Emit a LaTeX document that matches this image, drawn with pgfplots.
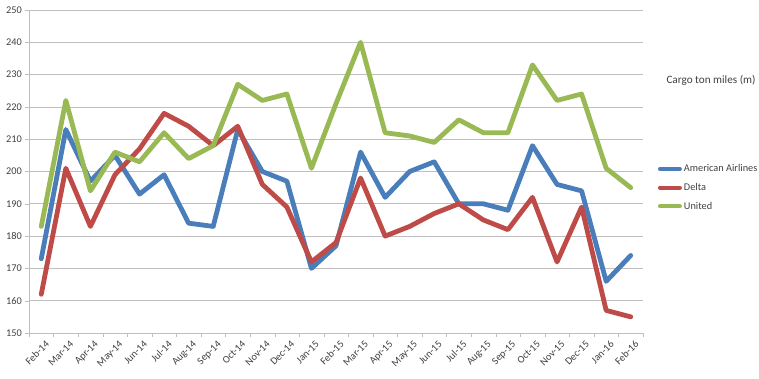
\documentclass[border=0pt]{standalone}
\usepackage{pgfplots}
\pgfplotsset{compat=1.18}
\usepackage{fontspec}
\setmainfont{Carlito}
\definecolor{aa}{HTML}{4A7EBB}
\definecolor{dl}{HTML}{BE4B48}
\definecolor{un}{HTML}{98B954}
\definecolor{txt}{HTML}{404040}
\definecolor{grd}{HTML}{BFBFBF}
\begin{document}
\begin{tikzpicture}[x=1pt,y=1pt]
\useasboundingbox (0,0) rectangle (759,378);
\begin{axis}[
  at={(29pt,45pt)}, anchor=south west,
  scale only axis, width=614pt, height=323pt,
  xmin=-0.5, xmax=24.5, ymin=150, ymax=250,
  ytick distance=10,
  xtick={0,...,24},
  xticklabels={Feb-14,Mar-14,Apr-14,May-14,Jun-14,Jul-14,Aug-14,Sep-14,Oct-14,Nov-14,Dec-14,Jan-15,Feb-15,Mar-15,Apr-15,May-15,Jun-15,Jul-15,Aug-15,Sep-15,Oct-15,Nov-15,Dec-15,Jan-16,Feb-16},
  minor xtick={-0.5,0.5,...,24.5},
  major tick length=4pt,
  minor tick length=4pt,
  tick align=outside,
  major x tick style={draw=none},
  minor x tick style={draw=grd},
  ytick style={draw=grd},
  axis x line*=bottom, axis y line*=left,
  axis line style={draw=grd, line width=0.8pt, -},
  ymajorgrids, major grid style={draw=grd, line width=0.8pt},
  xticklabel style={rotate=45, anchor=north east, font=\fontsize{10.3}{12}\selectfont, text=txt, inner sep=0.5pt, xshift=1pt, yshift=-4pt},
  yticklabel style={font=\fontsize{10.3}{12}\selectfont, text=txt, inner sep=1pt, xshift=-2pt},
  /pgf/number format/assume math mode=true,
  legend style={at={(1.024,0.528)}, anchor=north west, draw=none, fill=none,
    font=\fontsize{10.3}{12}\selectfont, text=txt, row sep=6pt, inner sep=0pt},
  legend cell align=left,
  legend image code/.code={\draw[#1, line width=4pt] (0pt,0pt) -- (20pt,0pt);},
  every axis plot/.append style={line width=4.8pt, line join=round, line cap=round},
  clip=false,
]
\addplot[color=aa, mark=none] coordinates {(0,173)(1,213)(2,197)(3,205)(4,193)(5,199)(6,184)(7,183)(8,213)(9,200)(10,197)(11,170)(12,177)(13,206)(14,192)(15,200)(16,203)(17,190)(18,190)(19,188)(20,208)(21,196)(22,194)(23,166)(24,174)};
\addlegendentry{American Airlines}
\addplot[color=dl, mark=none] coordinates {(0,162)(1,201)(2,183)(3,199)(4,207)(5,218)(6,214)(7,208)(8,214)(9,196)(10,189)(11,172)(12,178)(13,198)(14,180)(15,183)(16,187)(17,190)(18,185)(19,182)(20,192)(21,172)(22,189)(23,157)(24,155)};
\addlegendentry{Delta}
\addplot[color=un, mark=none] coordinates {(0,183)(1,222)(2,194)(3,206)(4,203)(5,212)(6,204)(7,208)(8,227)(9,222)(10,224)(11,201)(12,221)(13,240)(14,212)(15,211)(16,209)(17,216)(18,212)(19,212)(20,233)(21,222)(22,224)(23,201)(24,195)};
\addlegendentry{United}
\end{axis}
\node[text=txt, font=\fontsize{11.2}{13}\selectfont] at (711,298) {Cargo ton miles (m)};
\end{tikzpicture}
\end{document}
